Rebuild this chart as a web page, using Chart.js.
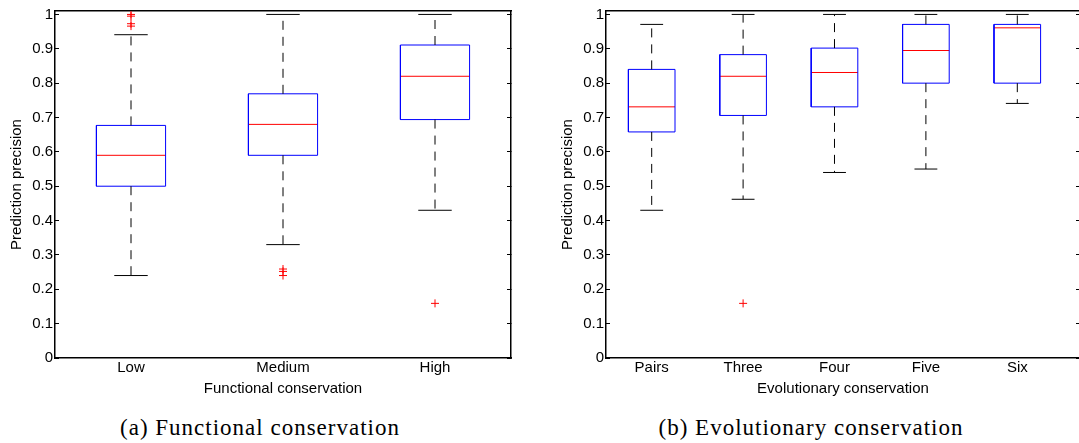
<!DOCTYPE html>
<html lang="en">
<head>
<meta charset="UTF-8">
<title>Prediction precision</title>
<script src="https://cdn.jsdelivr.net/npm/chart.js"></script>
<style>
    body {
        margin: 0;
        background: #fff;
        overflow: hidden;
    }
    #wrap {
        position: relative;
        width: 1079px;
        height: 443px;
        overflow: hidden;
    }
    canvas {
        position: absolute;
        top: 0;
    }
    #left { left: 0; }
    #right { left: 551px; }
    .caption {
        position: absolute;
        top: 416px;
        font-family: 'Liberation Serif', serif;
        font-size: 23px;
        line-height: 23px;
        letter-spacing: 1px;
        color: #000;
        white-space: nowrap;
        transform: translateX(-50%);
    }
</style>
</head>
<body>
<div id="wrap">
    <canvas id="left" width="540" height="410"></canvas>
    <canvas id="right" width="535" height="410"></canvas>
    <div class="caption" style="left:260px">(a) Functional conservation</div>
    <div class="caption" style="left:811px">(b) Evolutionary conservation</div>
</div>
<script>
// (a) functional conservation
const funcCats = ['Low', 'Medium', 'High'];
const funcQ1 = [0.50, 0.59, 0.694];
const funcMedian = [0.59, 0.68, 0.82];
const funcQ3 = [0.677, 0.769, 0.911];
const funcLow = [0.24, 0.33, 0.43];
const funcHigh = [0.941, 1.0, 1.0];
const funcOutliers = [[0.966, 0.973, 0.995, 1.0], [0.24, 0.252, 0.259], [0.159]];

// (b) evolutionary conservation
const evoCats = ['Pairs', 'Three', 'Four', 'Five', 'Six'];
const evoQ1 = [0.658, 0.706, 0.731, 0.80, 0.80];
const evoMedian = [0.731, 0.82, 0.831, 0.895, 0.961];
const evoQ3 = [0.84, 0.883, 0.902, 0.971, 0.971];
const evoLow = [0.43, 0.462, 0.54, 0.55, 0.741];
const evoHigh = [0.971, 1.0, 1.0, 1.0, 1.0];
const evoOutliers = [[], [0.159], [], [], []];

const yTicks = [0, 0.1, 0.2, 0.3, 0.4, 0.5, 0.6, 0.7, 0.8, 0.9, 1];

const FONT = { family: "'Liberation Sans', Arial, sans-serif", size: 15 };

function segments(pairs) {
    // list of [[x1,y1],[x2,y2],...] polylines -> points with gaps
    const pts = [];
    pairs.forEach(line => {
        line.forEach(p => pts.push({ x: p[0], y: p[1] }));
        pts.push({ x: line[0][0], y: null });
    });
    return pts;
}

function boxDatasets(q1, med, q3, lo, hi, outliers, boxW, capW) {
    const boxes = [], medians = [], whiskers = [], caps = [], outs = [];
    q1.forEach((_, i) => {
        const x = i + 1, b = boxW / 2, c = capW / 2;
        boxes.push([[x - b, q1[i]], [x + b, q1[i]], [x + b, q3[i]], [x - b, q3[i]], [x - b, q1[i]]]);
        medians.push([[x - b, med[i]], [x + b, med[i]]]);
        whiskers.push([[x, q3[i]], [x, hi[i]]]);
        whiskers.push([[x, q1[i]], [x, lo[i]]]);
        caps.push([[x - c, hi[i]], [x + c, hi[i]]]);
        caps.push([[x - c, lo[i]], [x + c, lo[i]]]);
        outliers[i].forEach(v => outs.push({ x: x, y: v }));
    });
    const line = (data, color, dash) => ({
        type: 'line', data: segments(data), borderColor: color, borderWidth: 1,
        borderDash: dash || [], pointRadius: 0, spanGaps: false, tension: 0
    });
    return [
        line(whiskers, '#000', [9, 7]),
        line(caps, '#000'),
        line(boxes, '#0000ff'),
        line(medians, '#ff0000'),
        {
            type: 'scatter', data: outs, pointStyle: 'cross', pointRadius: 4,
            borderColor: '#ff0000', backgroundColor: '#ff0000', borderWidth: 1
        }
    ];
}

function makeChart(id, cats, datasets, xMax, xTitle, padRight) {
    const axisColor = '#000';
    return new Chart(document.getElementById(id), {
        type: 'scatter',
        data: { datasets: datasets },
        options: {
            responsive: false,
            animation: false,
            events: [],
            layout: { padding: { left: 0, top: 11, right: padRight, bottom: 0 } },
            plugins: { legend: { display: false }, tooltip: { enabled: false } },
            scales: {
                x: {
                    type: 'linear', position: 'bottom', min: 0.5, max: xMax,
                    afterBuildTicks: axis => { axis.ticks = cats.map((c, i) => ({ value: i + 1 })); },
                    afterFit: axis => { axis.height = 52; },
                    ticks: { callback: v => cats[v - 1], color: '#000', font: FONT, padding: 1, maxRotation: 0, autoSkip: false },
                    grid: { display: true, drawOnChartArea: false, drawTicks: false },
                    border: { color: axisColor, width: 1.5 },
                    title: { display: true, text: xTitle, color: '#000', font: FONT, padding: { top: 0, bottom: 12 } }
                },
                xt: {
                    type: 'linear', position: 'top', min: 0.5, max: xMax,
                    afterFit: axis => { axis.height = 0; },
                    ticks: { display: false },
                    grid: { drawOnChartArea: false, drawTicks: false },
                    border: { color: axisColor, width: 1.5 }
                },
                y: {
                    type: 'linear', position: 'left', min: 0, max: 1.01,
                    afterBuildTicks: axis => { axis.ticks = yTicks.map(v => ({ value: v })); },
                    afterFit: axis => {
                        axis.width = 55;
                        // don't let the tick labels push the plot area down
                        axis.paddingTop = 0;
                        axis.paddingBottom = 0;
                    },
                    ticks: { callback: v => String(v), color: '#000', font: FONT, padding: 6 },
                    grid: { drawOnChartArea: false, drawTicks: true, tickLength: -4, tickColor: '#000', tickWidth: 1 },
                    border: { color: axisColor, width: 1.5 },
                    title: { display: true, text: 'Prediction precision', color: '#000', font: FONT, padding: { top: 8, bottom: 0 } }
                },
                yr: {
                    type: 'linear', position: 'right', min: 0, max: 1.01,
                    afterBuildTicks: axis => { axis.ticks = yTicks.map(v => ({ value: v })); },
                    afterFit: axis => { axis.width = 0; axis.paddingTop = 0; axis.paddingBottom = 0; },
                    ticks: { display: false },
                    grid: { drawOnChartArea: false, drawTicks: true, tickLength: -4, tickColor: '#000', tickWidth: 1 },
                    border: { color: axisColor, width: 1.5 }
                }
            }
        }
    });
}

makeChart('left', funcCats,
    boxDatasets(funcQ1, funcMedian, funcQ3, funcLow, funcHigh, funcOutliers, 0.455, 0.22),
    3.5, 'Functional conservation', 29);

makeChart('right', evoCats,
    boxDatasets(evoQ1, evoMedian, evoQ3, evoLow, evoHigh, evoOutliers, 0.51, 0.25),
    5.686, 'Evolutionary conservation', 6);
</script>
</body>
</html>
